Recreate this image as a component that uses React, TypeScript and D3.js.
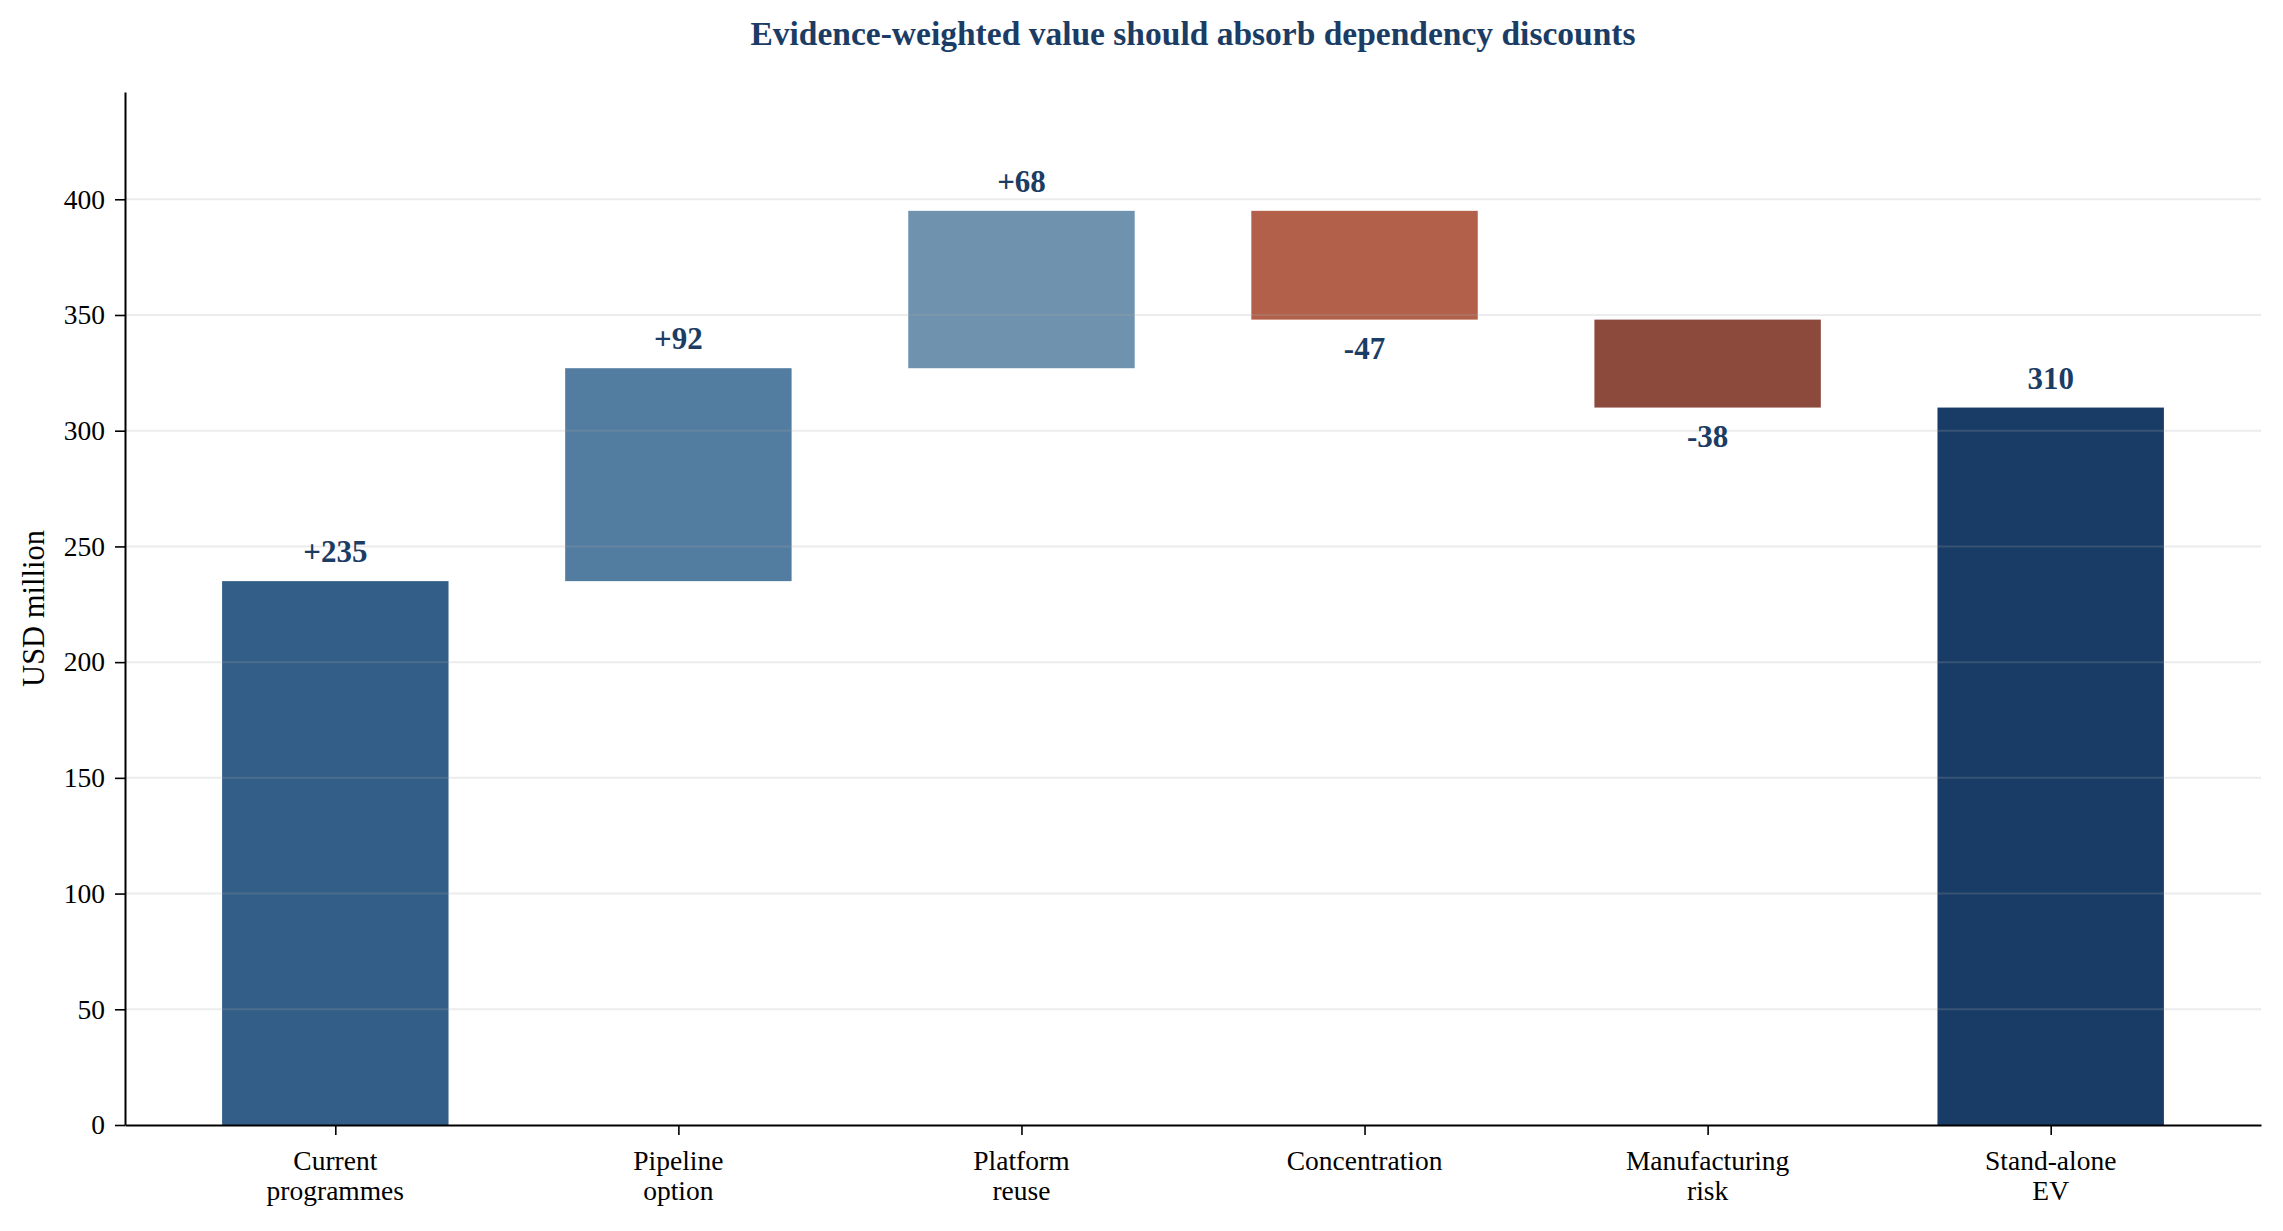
import * as d3 from "d3";
import { useEffect, useRef } from "react";

const W = 2283;
const H = 1231;
const margin = { top: 92, right: 22, bottom: 106, left: 125 };

const categories = [
  ["Current", "programmes"],
  ["Pipeline", "option"],
  ["Platform", "reuse"],
  ["Concentration"],
  ["Manufacturing", "risk"],
  ["Stand-alone", "EV"],
];
const steps = [235, 92, 68, -47, -38];
const total = 310;
const valueLabels = ["+235", "+92", "+68", "-47", "-38", "310"];
const barColors = ["#335e87", "#527ca0", "#6f92ae", "#b3604b", "#8b4a3c", "#193c66"];
const yTicks = [0, 50, 100, 150, 200, 250, 300, 350, 400];

const title = "Evidence-weighted value should absorb dependency discounts";
const yLabel = "USD million";
const font = "'Liberation Serif', 'Times New Roman', serif";
const ink = "#1b3c64";

function drawChart(el: SVGSVGElement) {
  const svg = d3.select(el);
  svg.selectAll("*").remove();

  const innerW = W - margin.left - margin.right;
  const innerH = H - margin.top - margin.bottom;

  // bars: [bottom, top] for each step, then total
  let run = 0;
  const bars = steps.map((v, i) => {
    const start = run;
    run += v;
    return { i, lo: Math.min(start, run), hi: Math.max(start, run), neg: v < 0 };
  });
  bars.push({ i: steps.length, lo: 0, hi: total, neg: false });

  const peak = d3.max(bars, (d) => d.hi) as number;
  const n = categories.length;
  const pad = (n - 1 + 0.66) * 0.05 + 0.33;

  const x = d3.scaleLinear().domain([-pad, n - 1 + pad]).range([0, innerW]);
  const y = d3.scaleLinear().domain([0, peak * 1.13]).range([innerH, 0]);
  const bw = x(0.66) - x(0);

  const chart = svg
    .append("g")
    .attr("transform", `translate(${margin.left},${margin.top})`);

  chart
    .append("g")
    .selectAll("rect")
    .data(bars)
    .enter()
    .append("rect")
    .attr("x", (d) => x(d.i) - bw / 2)
    .attr("y", (d) => y(d.hi))
    .attr("width", bw)
    .attr("height", (d) => y(d.lo) - y(d.hi))
    .attr("fill", (d) => barColors[d.i]);

  // grid sits over the bars, faint
  chart
    .append("g")
    .selectAll("line")
    .data(yTicks.filter((t) => t > 0))
    .enter()
    .append("line")
    .attr("x1", 0)
    .attr("x2", innerW)
    .attr("y1", (d) => y(d))
    .attr("y2", (d) => y(d))
    .attr("stroke", "#a8a8a8")
    .attr("stroke-opacity", 0.22)
    .attr("stroke-width", 2);

  // value labels
  chart
    .append("g")
    .selectAll("text")
    .data(bars)
    .enter()
    .append("text")
    .attr("x", (d) => x(d.i))
    .attr("y", (d) => (d.neg ? y(d.lo) + 39 : y(d.hi) - 19))
    .attr("text-anchor", "middle")
    .attr("fill", ink)
    .style("font-family", font)
    .style("font-weight", "bold")
    .style("font-size", "31px")
    .text((d) => valueLabels[d.i]);

  // y axis
  const yAxis = chart
    .append("g")
    .call(d3.axisLeft(y).tickValues(yTicks).tickSize(10).tickPadding(10).tickSizeOuter(0));
  yAxis.select(".domain").attr("stroke", "#000").attr("stroke-width", 2);
  yAxis.selectAll(".tick line").attr("stroke", "#000").attr("stroke-width", 1.6);
  yAxis
    .selectAll(".tick text")
    .attr("fill", "#000")
    .style("font-family", font)
    .style("font-size", "27.5px");

  // x axis
  const xAxis = chart
    .append("g")
    .attr("transform", `translate(0,${innerH})`)
    .call(
      d3
        .axisBottom(x)
        .tickValues(d3.range(n))
        .tickSize(10)
        .tickSizeOuter(0)
        .tickFormat(() => "")
    );
  xAxis.select(".domain").attr("stroke", "#000").attr("stroke-width", 2);
  xAxis.selectAll(".tick line").attr("stroke", "#000").attr("stroke-width", 1.6);

  const catText = chart
    .append("g")
    .selectAll("text")
    .data(categories)
    .enter()
    .append("text")
    .attr("x", (_, i) => x(i))
    .attr("y", innerH + 45)
    .attr("text-anchor", "middle")
    .attr("fill", "#000")
    .style("font-family", font)
    .style("font-size", "27.5px");
  catText
    .selectAll("tspan")
    .data((d) => d)
    .enter()
    .append("tspan")
    .attr("x", function () {
      return (this.parentNode as SVGTextElement).getAttribute("x");
    })
    .attr("dy", (_, j) => (j === 0 ? 0 : 30))
    .text((d) => d);

  // y label
  svg
    .append("text")
    .attr("transform", `translate(44,${margin.top + innerH / 2}) rotate(-90)`)
    .attr("text-anchor", "middle")
    .attr("fill", "#000")
    .style("font-family", font)
    .style("font-size", "30.5px")
    .text(yLabel);

  // title
  svg
    .append("text")
    .attr("x", margin.left + innerW / 2)
    .attr("y", 45)
    .attr("text-anchor", "middle")
    .attr("fill", ink)
    .style("font-family", font)
    .style("font-weight", "bold")
    .style("font-size", "33.5px")
    .text(title);
}

export default function App() {
  const ref = useRef<SVGSVGElement>(null);

  useEffect(() => {
    document.body.style.margin = "0";
    if (ref.current) drawChart(ref.current);
  }, []);

  return (
    <svg
      ref={ref}
      width={W}
      height={H}
      style={{ display: "block", background: "#fff" }}
    ></svg>
  );
}
